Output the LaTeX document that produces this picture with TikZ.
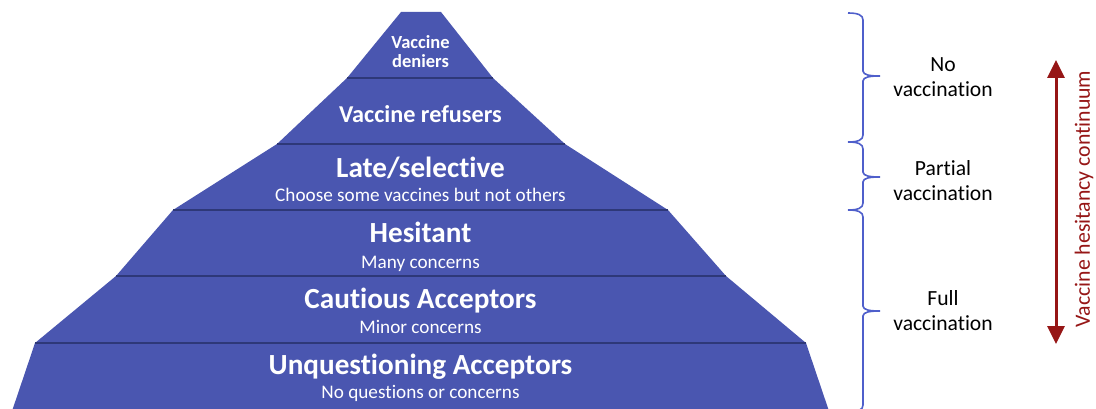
\documentclass[tikz,border=0pt]{standalone}
\usepackage{fontspec}
\setmainfont{Carlito}[RawFeature={-liga}]
\usetikzlibrary{arrows.meta}
\definecolor{pyrblue}{HTML}{4A56B0}
\definecolor{pyrline}{HTML}{2E3878}
\definecolor{brcblue}{HTML}{4F5FCB}
\definecolor{contred}{HTML}{961616}
\tikzset{layer/.style={fill=pyrblue},
        sep/.style={draw=pyrline, line width=1.2pt},
        ttl/.style={anchor=base, inner sep=0pt, text=white, font=\bfseries\fontsize{29.2}{31}\selectfont},
        sub/.style={anchor=base, inner sep=0pt, text=white, font=\fontsize{19.2}{21}\selectfont},
        grp/.style={align=center, inner sep=0pt, font=\fontsize{21.6}{25}\selectfont},
        brc/.style={draw=brcblue, line width=1.6pt},
        cont/.style={draw=contred, line width=3pt, {Triangle[width=17pt, length=18pt]}-{Triangle[width=17pt, length=18pt]}}}

\begin{document}
\begin{tikzpicture}[x=1pt, y=-1pt]
    \useasboundingbox (0,0) rectangle (1096,409);
    \clip (0,0) rectangle (1096,409);

    % corners of the pyramid, top to bottom
    \coordinate (l0) at (401,12);  \coordinate (r0) at (441,12);
    \coordinate (l1) at (347,78);  \coordinate (r1) at (493,78);
    \coordinate (l2) at (277,144); \coordinate (r2) at (565,144);
    \coordinate (l3) at (173,210); \coordinate (r3) at (668,210);
    \coordinate (l4) at (116,276); \coordinate (r4) at (726,276);
    \coordinate (l5) at (35,343);  \coordinate (r5) at (806,343);
    \coordinate (l6) at (9,420);   \coordinate (r6) at (832,420);

    \fill[layer] (l0) -- (r0) -- (r1) -- (r2) -- (r3) -- (r4) -- (r5) -- (r6)
      -- (l6) -- (l5) -- (l4) -- (l3) -- (l2) -- (l1) -- cycle;
    \foreach \i in {1,...,5}
      \draw[sep] (l\i) -- (r\i);

    % layer labels
    \node[align=center, inner sep=0pt, text=white, font=\bfseries\fontsize{18.5}{19}\selectfont] (den) at (420.5,51.5) {Vaccine\\deniers};
    \node[ttl, font=\bfseries\fontsize{24.2}{26}\selectfont] (ref) at (420.5,123) {Vaccine refusers};
    \node[ttl] (late) at (420.5,178) {Late/selective};
    \node[sub] (lates) at (420.5,201) {Choose some vaccines but not others};
    \node[ttl] (hes) at (420.5,243) {Hesitant};
    \node[sub] (hess) at (420.5,268) {Many concerns};
    \node[ttl] (cau) at (420.5,308) {Cautious Acceptors};
    \node[sub] (caus) at (420.5,333) {Minor concerns};
    \node[ttl] (unq) at (420.5,374) {Unquestioning Acceptors};
    \node[sub] (unqs) at (420.5,398) {No questions or concerns};

    % braces grouping the layers
    \foreach \t/\m/\b in {13/76/142, 142/177/210, 210/311/412} {
      \draw[brc] (848,\t) .. controls (858,\t) and (863,\t+2) .. (863,\t+7)
        -- (863,\m-5) .. controls (863,\m-1) and (870,\m) .. (880,\m)
        .. controls (870,\m) and (863,\m+1) .. (863,\m+5)
        -- (863,\b-7) .. controls (863,\b-2) and (858,\b) .. (848,\b);
    }
    \node[grp] (novac) at (943,77) {No\\vaccination};
    \node[grp] (partvac) at (943,180.5) {Partial\\vaccination};
    \node[grp] (fullvac) at (943,311) {Full\\vaccination};

    % continuum arrow
    \coordinate (hup) at (1056,60);
    \coordinate (hdn) at (1056,344);
    \draw[cont] (hup) -- (hdn);
    \node[rotate=90, inner sep=0pt, text=contred, font=\fontsize{21.8}{23}\selectfont] (contlbl) at (1084,199) {Vaccine hesitancy continuum};
\end{tikzpicture}
\end{document}
